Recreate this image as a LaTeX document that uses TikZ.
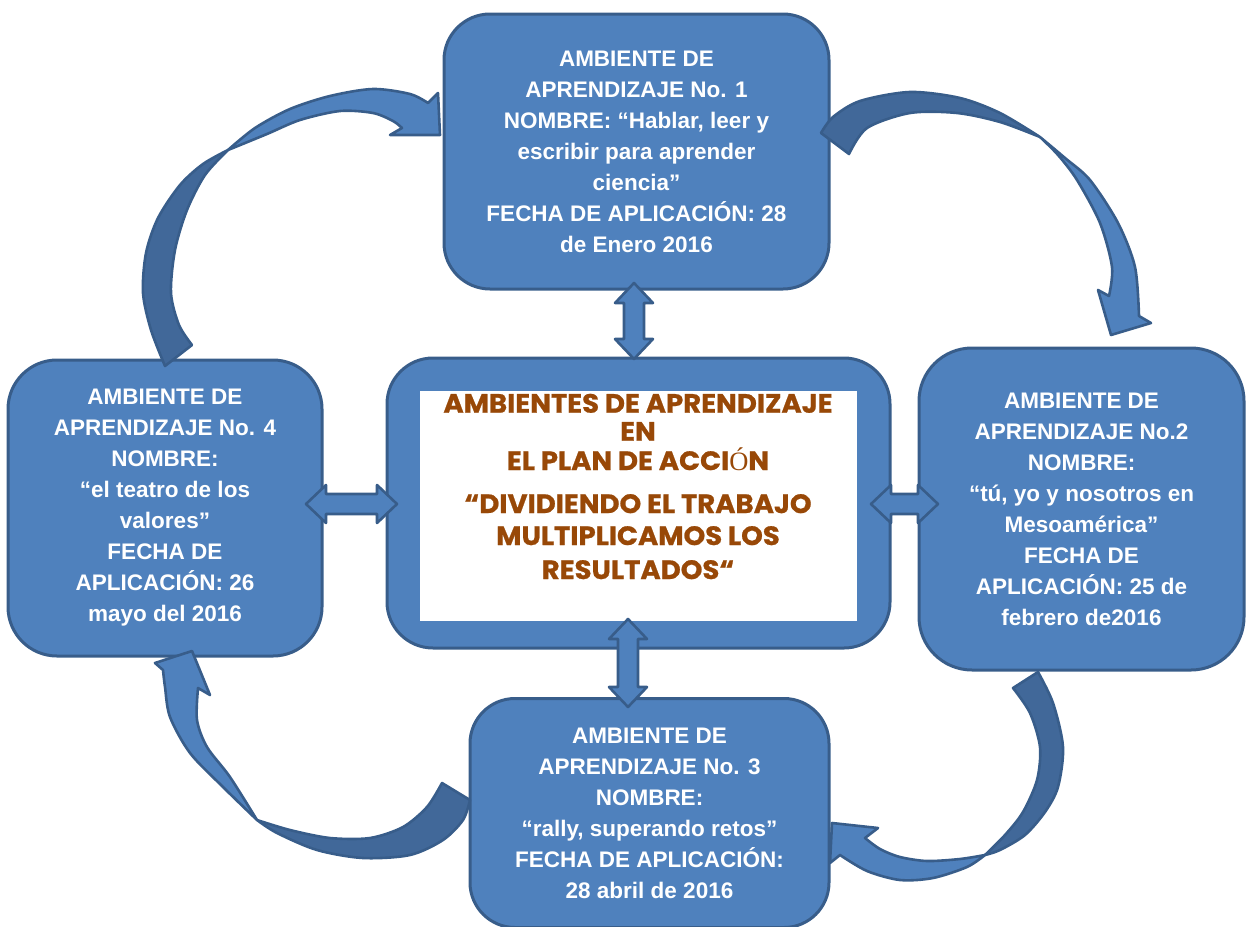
\documentclass[tikz,border=0pt]{standalone}
\usepackage{fontspec}
\setmainfont{Liberation Sans}
\newfontfamily\ctrfont{Poppins}[FakeStretch=1.04,FakeBold=0.8]
\newfontfamily\oserif{Liberation Serif}
\definecolor{boxfill}{RGB}{79,129,189}
\definecolor{boxline}{RGB}{56,93,138}
\definecolor{darkfill}{RGB}{65,104,153}
\definecolor{ctrbrown}{RGB}{152,72,7}
\tikzset{
  card/.style={draw=boxline, fill=boxfill, line width=3pt, rounded corners=#1,
    text=white, font=\bfseries\fontsize{22.5}{31}\selectfont, align=center, inner sep=0pt},
  ctrtxt/.style={text=ctrbrown, font=\ctrfont\bfseries\fontsize{26.5}{26.5}\selectfont, anchor=base, inner sep=0pt},
  lightarr/.style={fill=boxfill, draw=boxline, line width=2.6pt, line join=round},
  darkarr/.style={fill=darkfill, draw=boxline, line width=2.6pt, line join=round},
  pics/dblarrow/.style={code={
    \filldraw[lightarr] (-#1,0) -- (-#1+20,-19) -- (-#1+20,-10) -- (#1-20,-10) -- (#1-20,-19) -- (#1,0)
      -- (#1-20,19) -- (#1-20,10) -- (-#1+20,10) -- (-#1+20,19) -- cycle;}}
}
\begin{document}
\begin{tikzpicture}[x=1pt,y=-1pt]
\useasboundingbox (0,0) rectangle (1246,926);
% outer boxes
\node[card=46, minimum width=385pt, minimum height=275pt] (b1) at (636.5,151.5)
  {AMBIENTE DE\\APRENDIZAJE No. 1\\NOMBRE: “Hablar, leer y\\escribir para aprender\\ciencia”\\FECHA DE APLICACIÓN: 28\\de Enero 2016};
\node[card=49, minimum width=314pt, minimum height=296pt] (b4) at (165,508)
  {AMBIENTE DE\\APRENDIZAJE No. 4\\NOMBRE:\\“el teatro de los\\valores”\\FECHA DE\\APLICACIÓN: 26\\mayo del 2016};
\node[card=53, minimum width=325pt, minimum height=322pt] (b2) at (1081.5,509)
  {AMBIENTE DE\\APRENDIZAJE No.2\\NOMBRE:\\“tú, yo y nosotros en\\Mesoamérica”\\FECHA DE\\APLICACIÓN: 25 de\\febrero de2016};
\node[card=45, minimum width=359pt, minimum height=229pt] (b3) at (649.5,813)
  {AMBIENTE DE\\APRENDIZAJE No. 3\\NOMBRE:\\“rally, superando retos”\\FECHA DE APLICACIÓN:\\28 abril de 2016};
% centre box
\node[draw=boxline, fill=boxfill, line width=3pt, rounded corners=46, minimum width=503pt, minimum height=290pt, inner sep=0pt] (ctr) at (638.5,503) {};
\node[fill=white, minimum width=437pt, minimum height=230pt, inner sep=0pt] (inr) at (638.5,506) {};
% double arrows
\pic[rotate=90] at (634,321) {dblarrow=38};
\pic at (351.5,504) {dblarrow=45.5};
\pic at (904.5,504) {dblarrow=33.5};
\pic[rotate=90] at (628,663) {dblarrow=44};
% centre text
\node[ctrtxt] (t1) at (638,412.7) {AMBIENTES DE APRENDIZAJE};
\node[ctrtxt] (t2) at (638,440.7) {EN};
\node[ctrtxt] (t3) at (638,470) {EL PLAN DE ACCI{\oserif\mdseries Ó}N};
\node[ctrtxt] (t4) at (638,513) {“DIVIDIENDO EL TRABAJO};
\node[ctrtxt] (t5) at (638,545) {MULTIPLICAMOS LOS};
\node[ctrtxt] (t6) at (638,579) {RESULTADOS“};
% curved arrow: left box -> top box
\filldraw[darkarr] plot[smooth] coordinates {(165,366) (151,330) (143,293) (146,253) (158,218) (180,185) (203,164) (228,150)}
  -- plot[smooth] coordinates {(228,150) (205,175) (187,210) (175,250) (171,293) (179,325) (192,345)} -- cycle;
\filldraw[lightarr] plot[smooth] coordinates {(228,150) (255,128) (290,109) (330,96) (373,89) (410,94) (428,103)}
  -- (438,93) -- (440,135) -- (390,135) -- (402,128)
  -- plot[smooth] coordinates {(402,128) (393,121) (373,113) (340,111) (300,120) (267,134) (228,150)} -- cycle;
% curved arrow: top box -> right box
\filldraw[darkarr] plot[smooth] coordinates {(821,133) (833,117) (860,101) (910,92) (960,98) (1000,113) (1040,137)}
  -- plot[smooth] coordinates {(1040,137) (1000,122) (957,113) (910,113) (867,128) (849,154)} -- cycle;
\filldraw[lightarr] plot[smooth] coordinates {(1040,137) (1065,158) (1090,180) (1118,223) (1135,267) (1139,316)}
  -- (1151,323) -- (1111,335) -- (1098,290) -- (1109,296)
  -- plot[smooth] coordinates {(1109,296) (1112,267) (1100,223) (1077,180) (1058,155) (1040,137)} -- cycle;
% curved arrow: right box -> bottom box
\filldraw[darkarr] plot[smooth] coordinates {(1038,672) (1053,703) (1063,747) (1058,787) (1045,812) (1025,835) (1000,850) (985,855)}
  -- plot[smooth] coordinates {(985,855) (1005,835) (1023,812) (1037,780) (1040,747) (1030,713) (1013,688)} -- cycle;
\filldraw[lightarr] plot[smooth] coordinates {(985,855) (967,867) (933,878) (900,880) (867,871) (840,855)}
  -- (830,863) -- (832,823) -- (878,828) -- (865,838)
  -- plot[smooth] coordinates {(865,838) (880,849) (900,857) (927,861) (960,859) (985,855)} -- cycle;
% curved arrow: bottom box -> left box
\filldraw[darkarr] plot[smooth] coordinates {(470,800) (463,820) (443,840) (410,855) (363,858) (317,850) (277,833) (257,820)}
  -- plot[smooth] coordinates {(257,820) (290,830) (330,838) (370,838) (403,827) (427,807) (442,783)} -- cycle;
\filldraw[lightarr] plot[smooth] coordinates {(257,820) (223,787) (190,753) (170,717) (165,687) (163,670)}
  -- (155,663) -- (192,651) -- (210,695) -- (198,688)
  -- plot[smooth] coordinates {(198,688) (197,720) (207,747) (230,777) (257,820)} -- cycle;
\end{tikzpicture}
\end{document}
